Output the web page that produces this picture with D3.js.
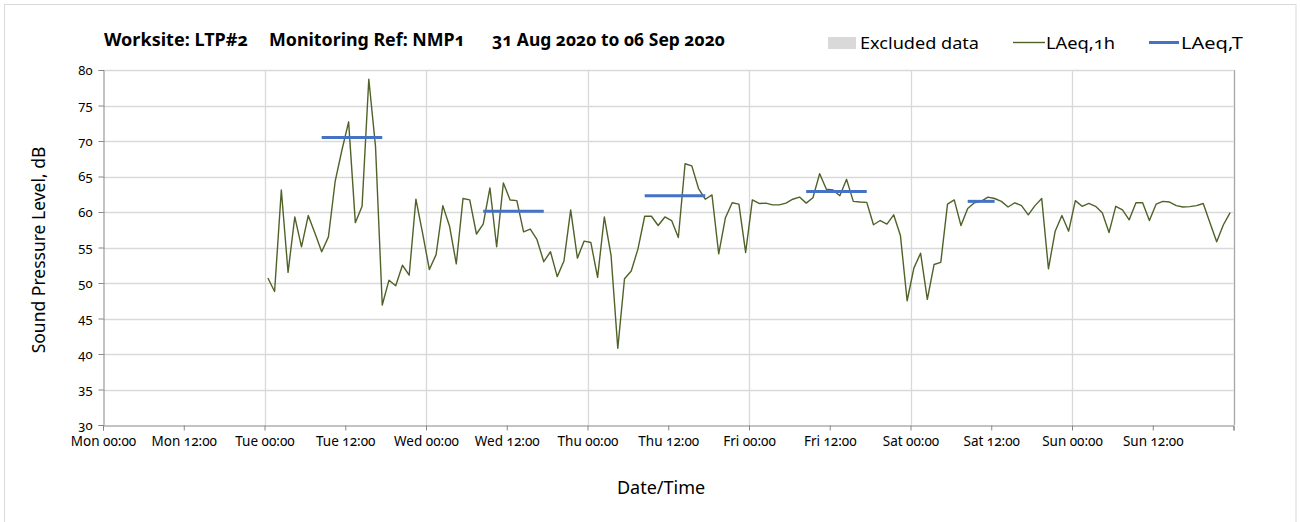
<!DOCTYPE html>
<html>
<head>
<meta charset="utf-8">
<script src="https://cdn.jsdelivr.net/npm/d3@7"></script>
<style>
  body { margin: 0; background: #fff; }
  svg text { font-family: "Noto Sans", "Open Sans", sans-serif; font-variant-numeric: oldstyle-nums; fill: #000; }
</style>
</head>
<body>
<svg id="chart" width="1301" height="522"></svg>
<script>
// ---- data ----
const startHour = 24.5; // hours after Mon 00:00 of first hourly value (interval midpoint)
const laeq1h = [
  // Tue
  50.7, 48.8, 63.1, 51.5, 59.3, 55.1, 59.5, 57.0, 54.4, 56.5, 64.3, 68.7,
  72.7, 58.5, 60.8, 78.7, 69.2, 46.9, 50.4, 49.6, 52.5, 51.1, 61.8, 57.0,
  // Wed
  51.9, 54.0, 60.9, 58.0, 52.7, 61.9, 61.7, 56.9, 58.3, 63.4, 55.1, 64.1,
  61.7, 61.6, 57.2, 57.6, 56.1, 53.0, 54.4, 50.9, 53.1, 60.3, 53.5, 55.9,
  // Thu
  55.7, 50.8, 59.3, 53.9, 40.8, 50.6, 51.7, 54.8, 59.4, 59.4, 58.1, 59.3,
  58.8, 56.4, 66.8, 66.5, 63.3, 61.8, 62.4, 54.1, 59.2, 61.3, 61.1, 54.3,
  // Fri
  61.7, 61.2, 61.25, 61.0, 61.0, 61.25, 61.8, 62.1, 61.25, 62.0, 65.4, 63.2,
  63.1, 62.3, 64.6, 61.5, 61.4, 61.35, 58.2, 58.8, 58.3, 59.6, 56.7, 47.5,
  // Sat
  52.1, 54.2, 47.7, 52.6, 52.9, 61.1, 61.7, 58.1, 60.5, 61.3, 61.5, 62.1,
  61.9, 61.5, 60.7, 61.3, 60.9, 59.6, 60.9, 61.9, 52.0, 57.3, 59.5, 57.3,
  // Sun
  61.6, 60.8, 61.2, 60.8, 59.9, 57.1, 60.8, 60.3, 58.9, 61.3, 61.3, 58.8,
  61.1, 61.5, 61.4, 60.9, 60.7, 60.75, 60.9, 61.2, 58.5, 55.8, 58.2, 59.9
];
// LAeq,T daytime periods: start hour, end hour, level
const laeqTStart = [32.5, 56.5, 80.5, 104.5, 128.5];
const laeqTEnd   = [41.5, 65.5, 89.5, 113.5, 132.5];
const laeqTLevel = [70.5, 60.1, 62.3, 62.9, 61.5];

const xTickHours = d3.range(0, 168, 12);
const xTickLabels = ["Mon 00:00","Mon 12:00","Tue 00:00","Tue 12:00","Wed 00:00","Wed 12:00",
  "Thu 00:00","Thu 12:00","Fri 00:00","Fri 12:00","Sat 00:00","Sat 12:00","Sun 00:00","Sun 12:00"];
const yTicks = d3.range(30, 81, 5);

const titleParts = ["Worksite: LTP#2", "Monitoring Ref: NMP1", "31 Aug 2020 to 06 Sep 2020"];
const legendLabels = ["Excluded data", "LAeq,1h", "LAeq,T"];

// ---- drawing ----
const svg = d3.select("#chart");
const L = 103, R = 1233.5, T = 70, B = 425;
const x = d3.scaleLinear().domain([0, 168]).range([L, R]);
const y = d3.scaleLinear().domain([30, 80]).range([B, T]);

// outer frame
svg.append("rect").attr("x", 4.5).attr("y", 4.5).attr("width", 1291.5).attr("height", 540)
  .attr("fill", "none").attr("stroke", "#d9d9d9");

// horizontal gridlines
svg.append("g").selectAll("line").data(yTicks.filter(v => v > 30)).join("line")
  .attr("x1", L).attr("x2", R)
  .attr("y1", d => Math.round(y(d)) + 0.5).attr("y2", d => Math.round(y(d)) + 0.5)
  .attr("stroke", "#d9d9d9").attr("stroke-width", 1.3);
// vertical gridlines at day boundaries
svg.append("g").selectAll("line").data(d3.range(24, 169, 24)).join("line")
  .attr("x1", d => Math.round(x(d)) + 0.5).attr("x2", d => Math.round(x(d)) + 0.5)
  .attr("y1", T).attr("y2", B)
  .attr("stroke", d => d === 168 ? "#a6a6a6" : "#d9d9d9").attr("stroke-width", 1.3);

// y axis
const yAxis = d3.axisLeft(y).tickValues(yTicks).tickSize(5).tickPadding(6).tickFormat(d3.format("d"));
const gy = svg.append("g").attr("transform", `translate(${L + 0.5},0)`).call(yAxis);
gy.select(".domain").attr("stroke", "#868686");
gy.selectAll(".tick line").attr("stroke", "#868686");
gy.selectAll(".tick text").attr("font-size", 13).attr("fill", "#000");

// x axis
const xAxis = d3.axisBottom(x).tickValues(xTickHours.concat([168])).tickSize(5).tickPadding(6)
  .tickFormat((d, i) => xTickLabels[i] || "");
const gx = svg.append("g").attr("transform", `translate(0,${B + 0.5})`).call(xAxis);
gx.select(".domain").attr("stroke", "#868686");
gx.selectAll(".tick line").attr("stroke", "#868686");
gx.selectAll(".tick text").attr("font-size", 13.5).attr("fill", "#000");

// LAeq,1h line
const line = d3.line().x((d, i) => x(startHour + i)).y(d => y(d));
svg.append("path").datum(laeq1h).attr("d", line)
  .attr("fill", "none").attr("stroke", "#4f6228").attr("stroke-width", 1.4).attr("stroke-linejoin", "round");

// LAeq,T segments
svg.append("g").selectAll("line").data(laeqTLevel).join("line")
  .attr("x1", (d, i) => x(laeqTStart[i])).attr("x2", (d, i) => x(laeqTEnd[i]))
  .attr("y1", d => y(d)).attr("y2", d => y(d))
  .attr("stroke", "#4472c4").attr("stroke-width", 3);

// title
const titleX = [104, 269, 492];
const titleW = [144, 196, 233];
svg.append("g").selectAll("text").data(titleParts).join("text")
  .attr("x", (d, i) => titleX[i]).attr("y", 46)
  .attr("textLength", (d, i) => titleW[i]).attr("lengthAdjust", "spacingAndGlyphs")
  .attr("font-size", 17).attr("font-weight", "bold").text(d => d);

// legend
svg.append("rect").attr("x", 828).attr("y", 37).attr("width", 28).attr("height", 12).attr("fill", "#d9d9d9");
svg.append("line").attr("x1", 1013).attr("x2", 1045).attr("y1", 42.5).attr("y2", 42.5)
  .attr("stroke", "#4f6228").attr("stroke-width", 1.4);
svg.append("line").attr("x1", 1149).attr("x2", 1179).attr("y1", 42.5).attr("y2", 42.5)
  .attr("stroke", "#4472c4").attr("stroke-width", 3);
const legendX = [860, 1046, 1181];
const legendW = [119, 69, 62];
svg.append("g").selectAll("text").data(legendLabels).join("text")
  .attr("x", (d, i) => legendX[i]).attr("y", 49)
  .attr("textLength", (d, i) => legendW[i]).attr("lengthAdjust", "spacingAndGlyphs")
  .attr("font-size", 17).text(d => d);

// axis titles
svg.append("text").attr("x", 661).attr("y", 494).attr("text-anchor", "middle").attr("font-size", 18).text("Date/Time");
svg.append("text").attr("transform", "translate(45,250) rotate(-90)").attr("text-anchor", "middle")
  .attr("font-size", 17.5).text("Sound Pressure Level, dB");
</script>
</body>
</html>
